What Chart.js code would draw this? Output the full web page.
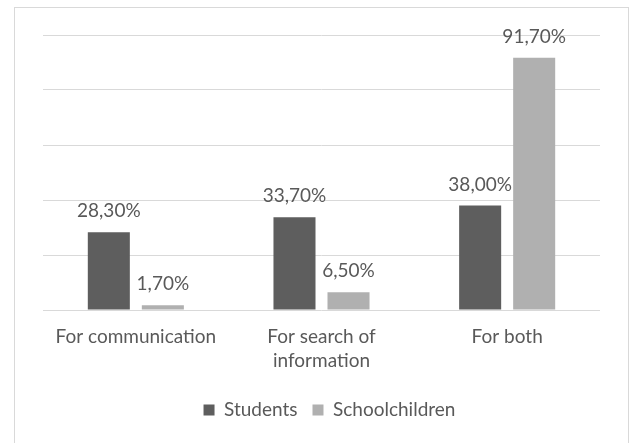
<!DOCTYPE html>
<html>
<head>
<meta charset="utf-8">
<script src="https://cdn.jsdelivr.net/npm/chart.js@4"></script>
<style>
  html, body { margin: 0; padding: 0; background: #ffffff; }
  #wrap { width: 635px; height: 443px; position: relative; }
</style>
</head>
<body>
<div id="wrap"><canvas id="c" width="635" height="443"></canvas></div>
<script>
const categories = [["For communication"], ["For search of", "information"], ["For both"]];
const seriesNames = ["Students", "Schoolchildren"];
const students = [28.3, 33.7, 38.0];
const schoolchildren = [1.7, 6.5, 91.7];
const yTicks = [0, 20, 40, 60, 80, 100];

const TEXT = '#595959';
const FONT = 'Lato';

const framePlugin = {
  id: 'frame',
  afterLayout(chart) {
    if (chart.legend) { chart.legend.left += 8; chart.legend.right += 8; }
  },
  beforeDraw(chart) {
    const ctx = chart.ctx;
    ctx.save();
    ctx.fillStyle = '#ffffff';
    ctx.fillRect(0, 0, chart.width, chart.height);
    ctx.strokeStyle = '#d9d9d9';
    ctx.lineWidth = 1;
    ctx.strokeRect(14.5, 7.5, 614, 500);
    ctx.restore();
  }
};

const labelPlugin = {
  id: 'barLabels',
  afterDatasetsDraw(chart) {
    const ctx = chart.ctx;
    ctx.save();
    ctx.font = '19px ' + FONT;
    ctx.fillStyle = TEXT;
    ctx.textAlign = 'center';
    ctx.textBaseline = 'middle';
    chart.data.datasets.forEach((ds, di) => {
      const meta = chart.getDatasetMeta(di);
      meta.data.forEach((bar, i) => {
        const v = ds.data[i];
        const txt = v.toFixed(2).replace('.', ',') + '%';
        ctx.fillText(txt, bar.x, bar.y - 21);
      });
    });
    ctx.restore();
  }
};

new Chart(document.getElementById('c'), {
  type: 'bar',
  data: {
    labels: categories,
    datasets: [
      { label: seriesNames[0], data: students, backgroundColor: '#5e5e5e',
        categoryPercentage: 0.582, barPercentage: 0.778 },
      { label: seriesNames[1], data: schoolchildren, backgroundColor: '#b0b0b0',
        categoryPercentage: 0.582, barPercentage: 0.778 }
    ]
  },
  options: {
    responsive: false,
    animation: false,
    devicePixelRatio: 1,
    layout: { padding: { left: 43, right: 35, top: 35, bottom: 13.5 } },
    plugins: {
      legend: {
        position: 'bottom',
        labels: {
          boxWidth: 11, boxHeight: 11, padding: 15,
          color: TEXT,
          font: { family: FONT, size: 19 }
        }
      },
      tooltip: { enabled: false }
    },
    scales: {
      x: {
        grid: { display: false, drawTicks: false },
        border: { display: false },
        ticks: {
          color: TEXT, padding: 15, maxRotation: 0, autoSkip: false,
          font: { family: FONT, size: 19, lineHeight: '24px' }
        },
        afterFit(scale) { scale.height = 75.5; }
      },
      y: {
        min: 0, max: 100,
        afterBuildTicks(scale) { scale.ticks = yTicks.map(v => ({ value: v })); },
        ticks: { display: false },
        grid: { color: '#d9d9d9', lineWidth: 1, drawTicks: false },
        border: { display: false }
      }
    }
  },
  plugins: [framePlugin, labelPlugin]
});
</script>
</body>
</html>
